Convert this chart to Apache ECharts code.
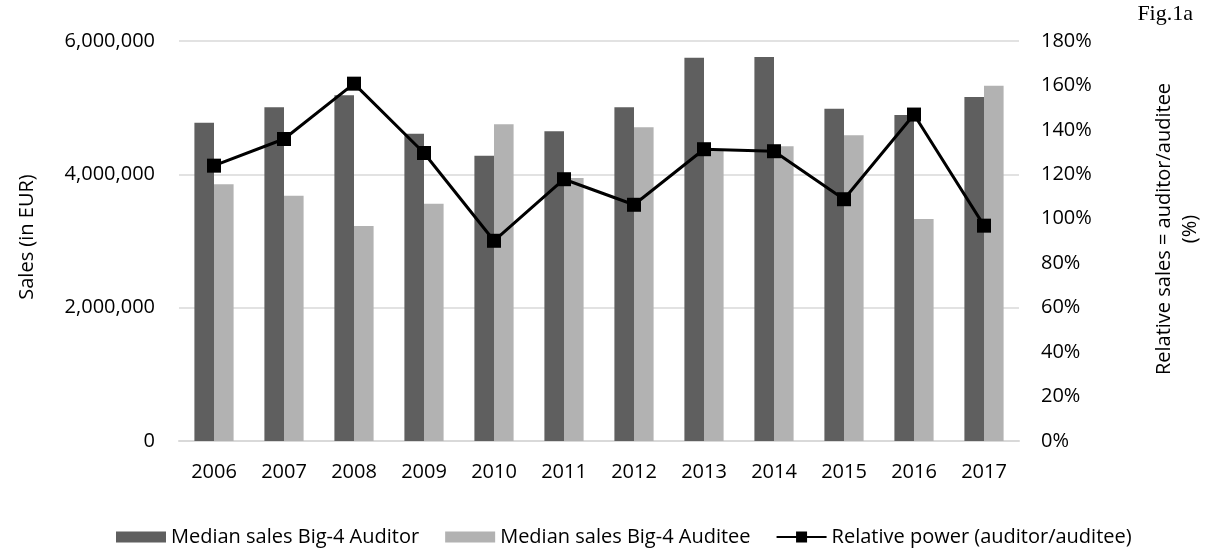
<!DOCTYPE html>
<html>
<head>
<meta charset="utf-8">
<script src="https://cdn.jsdelivr.net/npm/echarts@6/dist/echarts.min.js"></script>
<style>
  html, body { margin: 0; padding: 0; background: #ffffff; }
  #chart { width: 1211px; height: 549px; }
</style>
</head>
<body>
<div id="chart"></div>
<script>
// Fiscal years on the category axis
const years = ['2006', '2007', '2008', '2009', '2010', '2011', '2012', '2013', '2014', '2015', '2016', '2017'];

// Median sales (EUR) of the Big-4 auditor and of the audited client
const auditorSales = [4775000, 5005000, 5185000, 4610000, 4280000, 4645000, 5005000, 5750000, 5760000, 4985000, 4890000, 5160000];
const auditeeSales = [3850000, 3680000, 3225000, 3560000, 4750000, 3945000, 4705000, 4380000, 4420000, 4585000, 3330000, 5330000];

// Relative power = auditor / auditee, in percent
const relativePower = [123.9, 135.9, 160.8, 129.6, 90.1, 117.8, 106.3, 131.3, 130.4, 108.8, 146.9, 96.9];

// Axis ticks
const salesTicks = { min: 0, max: 6000000, interval: 2000000 };
const ratioTicks = { min: 0, max: 180, interval: 20 };

const FONT = '"Open Sans", sans-serif';
const TEXT = '#000000';

// Legend glyph for the line series: a line with a square marker in the middle
const lineMarkerIcon = 'path://M0,4.5H19.5V0H30.5V4.5H50V6.5H30.5V11H19.5V6.5H0Z';

const chart = echarts.init(document.getElementById('chart'), null, { renderer: 'canvas' });

chart.setOption({
  animation: false,
  backgroundColor: '#ffffff',
  textStyle: { fontFamily: FONT, color: TEXT },
  grid: { left: 179, right: 190, top: 41, bottom: 108, containLabel: false },
  legend: {
    top: 522,
    left: 111,
    itemWidth: 50,
    itemHeight: 11,
    itemGap: 26,
    textStyle: { fontFamily: FONT, fontSize: 20, color: TEXT },
    data: [
      { name: 'Median sales Big-4 Auditor', icon: 'rect' },
      { name: 'Median sales Big-4 Auditee', icon: 'rect' },
      { name: 'Relative power (auditor/auditee)', icon: lineMarkerIcon }
    ]
  },
  graphic: [{
    type: 'text',
    right: 18,
    top: 3,
    style: {
      text: 'Fig.1a',
      fontSize: 22,
      fontFamily: '"Liberation Serif", "Times New Roman", serif',
      fill: '#000000'
    }
  }],
  xAxis: {
    type: 'category',
    data: years,
    axisLine: { show: true, lineStyle: { color: '#d9d9d9', width: 2 } },
    axisTick: { show: false },
    axisLabel: { fontFamily: FONT, fontSize: 20, color: TEXT, margin: 21 }
  },
  yAxis: [
    {
      type: 'value',
      min: salesTicks.min,
      max: salesTicks.max,
      interval: salesTicks.interval,
      name: 'Sales (in EUR)',
      nameLocation: 'middle',
      nameGap: 142,
      nameTextStyle: { fontFamily: FONT, fontSize: 20, color: TEXT, padding: [0, 0, 0, 8] },
      axisLine: { show: false },
      axisTick: { show: false },
      splitLine: { show: true, lineStyle: { color: '#d9d9d9', width: 1.5 } },
      axisLabel: {
        fontFamily: FONT, fontSize: 20, color: TEXT, margin: 24,
        formatter: v => v.toLocaleString('en-US')
      }
    },
    {
      type: 'value',
      position: 'right',
      min: ratioTicks.min,
      max: ratioTicks.max,
      interval: ratioTicks.interval,
      name: 'Relative sales = auditor/auditee\n(%)',
      nameLocation: 'middle',
      nameGap: 132,
      nameTextStyle: { fontFamily: FONT, fontSize: 20, color: TEXT, align: 'center', lineHeight: 26, padding: [0, 0, 0, 24] },
      axisLine: { show: false },
      axisTick: { show: false },
      splitLine: { show: false },
      axisLabel: { fontFamily: FONT, fontSize: 20, color: TEXT, margin: 22, formatter: '{value}%' }
    }
  ],
  series: [
    {
      name: 'Median sales Big-4 Auditor',
      type: 'bar',
      yAxisIndex: 0,
      data: auditorSales,
      barGap: '0%',
      barCategoryGap: '44%',
      itemStyle: { color: '#5f5f5f' }
    },
    {
      name: 'Median sales Big-4 Auditee',
      type: 'bar',
      yAxisIndex: 0,
      data: auditeeSales,
      barGap: '0%',
      barCategoryGap: '44%',
      itemStyle: { color: '#b2b2b2' }
    },
    {
      name: 'Relative power (auditor/auditee)',
      type: 'line',
      yAxisIndex: 1,
      data: relativePower,
      symbol: 'rect',
      symbolSize: 14,
      lineStyle: { color: '#000000', width: 3 },
      itemStyle: { color: '#000000' },
      z: 5
    }
  ]
});
</script>
</body>
</html>
